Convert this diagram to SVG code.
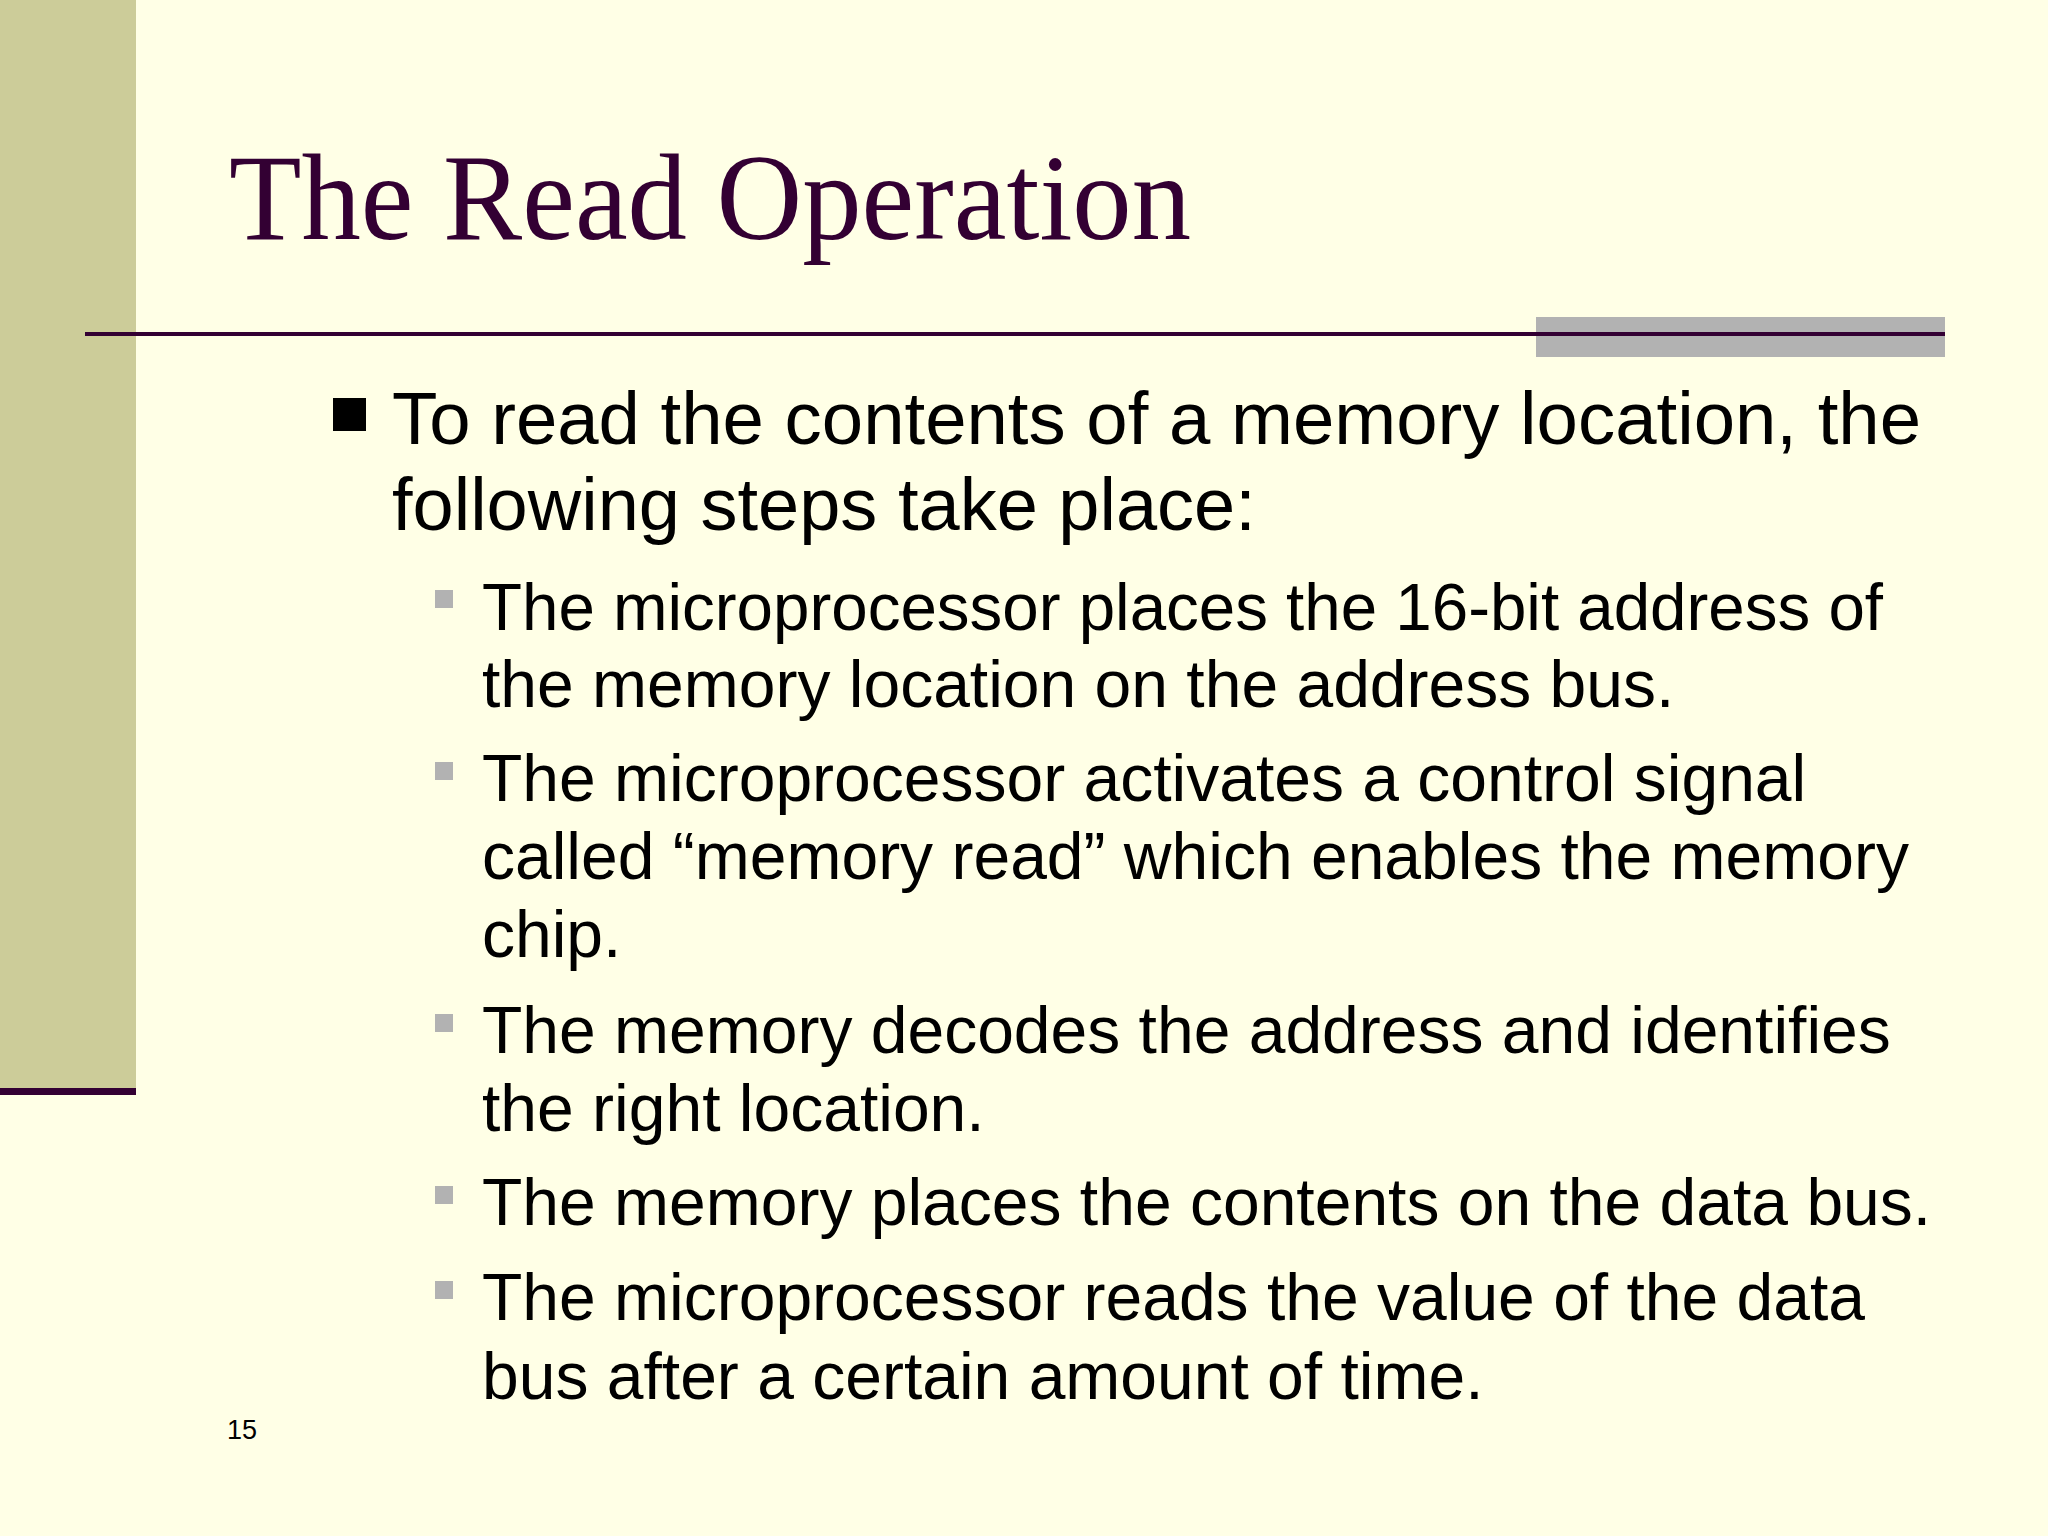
<svg xmlns="http://www.w3.org/2000/svg" width="2048" height="1536" viewBox="0 0 2048 1536">
<style>
.t{font-family:"Liberation Sans",Arial,sans-serif;fill:#000}
.b{font-size:74px}.s{font-size:66px}
.sq{fill:#B2B2B2}
</style>
<rect width="2048" height="1536" fill="#FFFFE6"/>
<rect x="0" y="0" width="136" height="1088" fill="#CCCC99"/>
<rect x="0" y="1088" width="136" height="7" fill="#330033"/>
<rect x="1536" y="317" width="409" height="40" fill="#B2B2B2"/>
<rect x="85" y="332" width="1860" height="4" fill="#330033"/>
<text x="229" y="239" font-family="'Liberation Serif','Times New Roman',serif" font-size="122" fill="#330033" textLength="962" lengthAdjust="spacingAndGlyphs">The Read Operation</text>
<rect x="333" y="398" width="33" height="33" fill="#000"/>
<text class="t b" x="392" y="444" textLength="1529" lengthAdjust="spacingAndGlyphs">To read the contents of a memory location, the</text>
<text class="t b" x="392" y="530">following steps take place:</text>
<g class="sq">
<rect x="435" y="590" width="18" height="18"/>
<rect x="435" y="762" width="18" height="18"/>
<rect x="435" y="1014" width="18" height="18"/>
<rect x="435" y="1186" width="18" height="18"/>
<rect x="435" y="1281" width="18" height="18"/>
</g>
<text class="t s" x="482" y="630" textLength="1401" lengthAdjust="spacingAndGlyphs">The microprocessor places the 16-bit address of</text>
<text class="t s" x="482" y="707">the memory location on the address bus.</text>
<text class="t s" x="482" y="801">The microprocessor activates a control signal</text>
<text class="t s" x="482" y="879">called “memory read” which enables the memory</text>
<text class="t s" x="482" y="957">chip.</text>
<text class="t s" x="482" y="1053">The memory decodes the address and identifies</text>
<text class="t s" x="482" y="1131">the right location.</text>
<text class="t s" x="482" y="1225">The memory places the contents on the data bus.</text>
<text class="t s" x="482" y="1320">The microprocessor reads the value of the data</text>
<text class="t s" x="482" y="1399">bus after a certain amount of time.</text>
<text class="t" x="227" y="1439" font-size="27">15</text>
</svg>
